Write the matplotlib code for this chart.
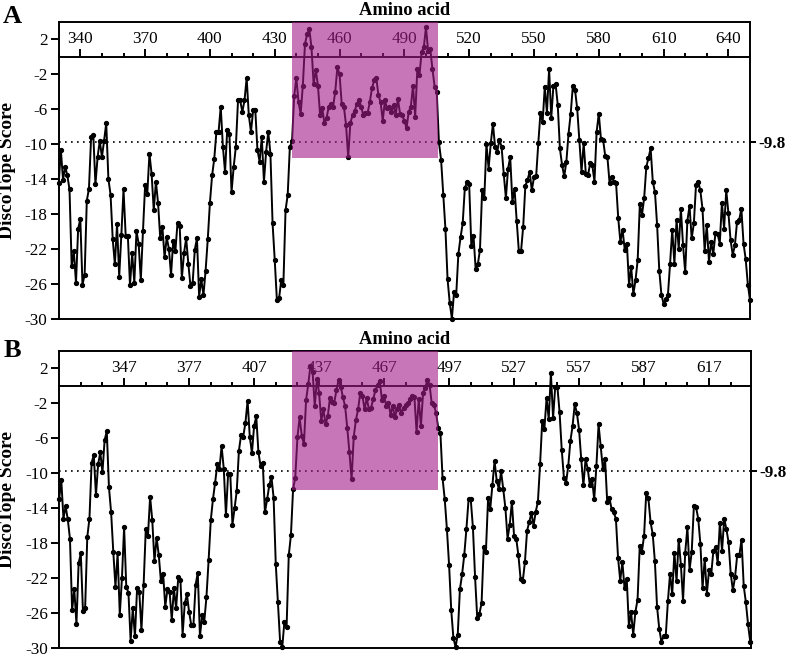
import numpy as np
import matplotlib
matplotlib.use("Agg")
import matplotlib.pyplot as plt
from matplotlib.patches import Rectangle
from matplotlib.ticker import FixedLocator

plt.rcParams['font.family'] = ['Liberation Serif', 'DejaVu Serif']
plt.rcParams['axes.unicode_minus'] = False

# ---- data -------------------------------------------------------------
# panel A: residues 330..650
start_a = 330
scores_a = [
    # 330-438
    -14.5, -10.7, -14.1, -12.6, -13.6, -15.2, -24.0, -22.3, -25.9, -19.7,
    -18.6, -26.1, -25.0, -16.5, -15.1, -9.2, -8.9, -14.6, -11.5, -9.6,
    -11.5, -9.6, -7.6, -14.0, -15.8, -20.9, -23.8, -19.2, -25.2, -20.4,
    -15.2, -20.5, -20.5, -26.2, -22.5, -25.9, -20.0, -21.4, -25.6, -20.0,
    -14.7, -15.7, -11.1, -13.4, -17.6, -14.3, -16.8, -20.8, -19.5, -23.0,
    -20.7, -22.0, -25.0, -21.1, -22.3, -19.0, -19.4, -25.4, -22.5, -20.8,
    -23.7, -26.3, -25.9, -22.1, -20.8, -27.5, -25.5, -27.3, -24.5, -20.9,
    -16.7, -13.6, -11.7, -8.6, -8.6, -5.7, -10.3, -13.2, -8.4, -8.8,
    -15.5, -12.6, -10.3, -5.0, -5.0, -6.3, -5.0, -2.4, -6.7, -8.6,
    -6.1, -6.1, -10.7, -12.0, -9.2, -14.3, -10.9, -8.6, -11.1, -19.1,
    -23.3, -27.9, -27.7, -25.6, -26.1, -17.6, -15.8, -10.3, -9.7,
    # 439-506
    -4.5, -2.4, -5.2, -6.5, -3.3, 1.5, 2.6, 3.2, 1.1, -3.1,
    -1.5, -3.3, -6.7, -5.9, -7.6, -7.0, -5.7, -5.4, -5.7, -4.0,
    -1.2, -2.0, -5.4, -5.7, -7.8, -11.5, -7.6, -6.7, -6.2, -5.4,
    -4.9, -5.7, -6.7, -6.4, -6.4, -5.2, -3.6, -2.7, -2.4, -4.4,
    -5.2, -7.3, -5.0, -5.9, -5.7, -6.3, -5.5, -6.7, -4.8, -6.5,
    -6.7, -7.3, -8.2, -6.3, -5.7, -3.3, -6.9, -1.4, -2.1, 0.6,
    1.1, 3.4, 0.7, 0.9, -1.4, -3.4, -4.0, -9.8,
    # 507-650
    -11.8, -15.8, -19.7, -25.5, -28.2, -30.0, -27.0, -27.3,
    -22.6, -20.7, -19.1, -15.0, -14.4, -14.6, -21.7, -20.5, -24.3, -23.8,
    -22.1, -15.3, -16.2,
    -10.0, -12.8, -9.9, -7.7, -10.3, -10.9, -9.5, -10.3, -13.4, -16.2,
    -12.8, -11.5, -16.6, -15.1, -18.8, -22.3, -22.3, -19.5, -14.8, -14.1,
    -13.2, -15.3, -13.8, -13.7, -9.9,
    -6.4, -7.5, -3.4, -6.4, -1.4, -7.0, -3.3, -3.1, -5.5, -10.5,
    -12.4, -13.7, -12.0, -8.8, -6.5, -3.3, -3.8, -5.9, -9.5, -13.2,
    -9.9, -13.4, -13.6, -12.2, -12.4, -14.3, -8.6, -6.5, -9.4, -9.5,
    -11.4, -11.5, -14.5, -13.8, -14.3, -14.5, -18.5, -21.2, -19.8, -22.1,
    -21.4, -26.1, -24.1, -27.2, -25.6, -23.3, -16.9, -18.1, -16.2, -12.6,
    -11.6, -10.5, -14.3, -15.5, -19.3, -24.5, -27.3, -28.3, -27.8, -27.3,
    -23.7, -19.8, -23.7, -18.7, -22.0, -17.4, -21.6, -24.7, -18.8, -17.1,
    -20.8, -19.1, -14.7, -14.3, -15.3, -17.4, -22.2, -19.3, -23.5, -21.2,
    -22.6, -20.2, -20.3, -21.4, -16.7, -19.7, -15.3, -17.9, -21.0, -22.7,
    -21.6, -18.9, -18.7, -17.4, -21.4, -23.2, -26.1, -27.9,
]
xticks_a = [340, 370, 400, 430, 460, 490, 520, 550, 580, 610, 640]
minor_a = list(range(330, 651, 10))
xlim_a = (330, 650)
box_a = (438.1, 505.7, -11.6)  # highlighted epitope region

# panel B: residues 317..636
start_b = 317
scores_b = [
    # 317-358
    -13.0, -10.8, -15.2, -13.8, -15.3, -17.5, -25.7, -23.3, -27.3, -20.3,
    -19.2, -25.8, -25.5, -17.3, -15.2, -8.8, -7.9, -12.5, -9.0, -7.6,
    -9.9, -6.2, -5.2, -11.6, -14.5, -19.0, -23.0, -19.2, -26.2, -22.0,
    -16.2, -23.0, -23.7, -29.2, -25.5, -28.7, -23.1, -23.6, -28.0, -22.8,
    -16.4, -17.2,
    # 359-413
    -12.7, -15.4, -20.1, -17.4, -19.4, -22.4, -21.5, -25.3, -23.3, -23.6,
    -26.8, -23.2, -25.5, -21.9, -22.2, -28.5, -24.9, -23.9, -25.9, -27.4,
    -27.4, -22.8, -21.4, -28.7, -26.3, -27.0, -24.2, -20.0, -15.4, -13.0,
    -11.1, -9.0, -9.5, -6.9, -9.5, -14.8, -10.1, -10.1, -15.9, -14.0,
    -12.0, -7.4, -5.6, -5.8, -4.2, -1.7, -5.8, -7.7, -4.6, -3.5,
    -7.6, -9.2, -8.8, -14.5, -13.0,
    # 414-533
    -11.4, -10.4, -12.8, -20.4, -24.8, -29.3, -29.9, -27.0, -27.6, -19.4,
    -17.1, -11.8, -10.5, -5.9, -3.6, -5.7, -6.7, -1.6, 0.2, 2.3,
    1.6, -2.3, 0.8, -0.8, -4.0, -2.7, -4.4, -3.5, -1.4, -1.8,
    -1.9, -0.5, 0.7, -0.1, -1.3, -2.3, -4.8, -7.6, -10.7, -5.8,
    -3.9, -2.7, -0.8, -1.1, -2.7, -1.4, -2.7, -2.5, -1.5, -0.5,
    0.1, 0.6, -1.6, -1.1, -2.3, -1.9, -3.3, -2.3, -3.6, -2.6,
    -2.2, -3.1, -2.5, -2.2, -2.0, -1.5, -1.2, -1.3, -5.3, -1.5,
    -4.6, -0.8, -0.2, 0.7, 0.1, -2.0, -2.2, -3.1, -4.8, -5.4,
    -10.6, -13.0, -16.4, -20.5, -25.7, -28.9, -29.9, -28.5, -23.3, -21.6,
    -19.4, -16.4, -13.0, -13.0, -16.2, -21.9, -26.6, -26.1, -24.9, -18.5,
    -19.0, -12.9, -14.1, -11.4, -8.6, -10.9, -11.8, -9.8, -11.8, -14.0,
    -17.5, -15.9, -13.3, -17.2, -17.5, -19.4, -22.1, -22.4, -20.2, -16.6,
    # 534-636
    -15.6, -14.6, -16.0, -14.4, -13.3, -9.0, -4.0, -4.9, -1.4, -3.8,
    1.5, -3.7, -0.1, -0.1, -3.0, -7.3, -10.5, -11.1, -9.2, -6.3,
    -4.6, -2.1, -3.1, -5.0, -8.4, -11.4, -8.4, -9.5, -11.4, -10.7,
    -13.0, -9.2, -4.4, -6.9, -9.5, -8.4, -13.3, -12.8, -14.1, -14.5,
    -15.2, -19.7, -22.3, -20.2, -23.2, -22.1, -27.5, -25.9, -28.5, -25.9,
    -24.5, -18.4, -19.0, -17.2, -12.3, -12.9, -15.6, -17.0, -20.1, -25.3,
    -27.8, -29.3, -28.7, -28.7, -24.7, -21.5, -23.9, -19.1, -22.4, -17.6,
    -20.5, -24.6, -19.1, -16.2, -21.1, -19.0, -13.8, -13.9, -15.2, -18.1,
    -23.2, -19.8, -23.8, -21.1, -21.6, -18.9, -18.5, -20.3, -15.7, -18.9,
    -15.2, -16.4, -17.9, -21.5, -23.4, -21.9, -19.4, -19.4, -17.6, -22.9,
    -24.8, -27.3, -29.3,
]
xticks_b = [347, 377, 407, 437, 467, 497, 527, 557, 587, 617]
minor_b = list(range(317, 637, 10))
xlim_b = (317.1, 636.2)
box_b = (424.6, 492.0, -11.9)

yticks = [2, -2, -6, -10, -14, -18, -22, -26, -30]
threshold = -9.8
ylim = (-30, 4)

LW = 1.4
PINK = '#a31b8a'
TICK_FS = 12.3


def draw_panel(ax, start, scores, majors, minors, xlim, box):
    residues = np.arange(start, start + len(scores))

    ax.plot(residues, scores, color='black', lw=LW, marker='o', ms=2.8,
            zorder=3, clip_on=False)
    ax.axhline(threshold, color='black', lw=1.2, ls=(0, (1, 2.6)), zorder=2)

    x0, x1, ybot = box
    ax.add_patch(Rectangle((x0, ybot), x1 - x0, ylim[1] - ybot,
                           facecolor=PINK, edgecolor='none', alpha=0.6,
                           zorder=6, clip_on=False))

    ax.set_xlim(*xlim)
    ax.set_ylim(*ylim)

    # x axis sits on y = 0 with ticks pointing up
    ax.spines['top'].set_position(('data', 0))
    ax.xaxis.set_ticks_position('top')
    ax.xaxis.set_major_locator(FixedLocator(majors))
    ax.xaxis.set_minor_locator(FixedLocator([m for m in minors if m not in majors]))
    ax.tick_params(axis='x', which='major', direction='out', length=5.5,
                   width=LW, pad=1.5, labelsize=TICK_FS)
    ax.tick_params(axis='x', which='minor', direction='out', length=3,
                   width=LW)
    # outer frame line at the top
    ax.plot([0, 1], [1, 1], transform=ax.transAxes, color='black', lw=LW,
            clip_on=False, zorder=2.5)

    ax.set_yticks(yticks)
    ax.tick_params(axis='y', direction='out', length=6, width=LW, pad=2,
                   labelsize=TICK_FS)
    for s in ax.spines.values():
        s.set_linewidth(LW)

    ax.set_ylabel('DiscoTope Score', fontsize=14, fontweight='bold')
    ax.yaxis.set_label_coords(-0.062, 0.5)
    ax.annotate('Amino acid', xy=(0.5, 1), xycoords='axes fraction',
                xytext=(0, 5), textcoords='offset points', ha='center',
                va='baseline', fontsize=13.3, fontweight='bold')

    # threshold label on the right
    tw = ax.twinx()
    tw.set_ylim(*ylim)
    tw.set_yticks([threshold])
    tw.set_yticklabels(['-9.8'], fontweight='bold', fontsize=TICK_FS)
    tw.tick_params(axis='y', direction='out', length=4, width=LW, pad=2)
    for s in tw.spines.values():
        s.set_visible(False)


fig = plt.figure(figsize=(7.87, 6.55), dpi=100)
ax_a = fig.add_axes([0.0746, 0.5137, 0.8784, 0.4527])
ax_b = fig.add_axes([0.0754, 0.0111, 0.8784, 0.453])

draw_panel(ax_a, start_a, scores_a, xticks_a, minor_a, xlim_a, box_a)
draw_panel(ax_b, start_b, scores_b, xticks_b, minor_b, xlim_b, box_b)

fig.text(0.004, 0.9653, 'A', fontsize=19, fontweight='bold', va='baseline')
fig.text(0.004, 0.455, 'B', fontsize=19, fontweight='bold', va='baseline')

fig.savefig('out.png', dpi=100)
